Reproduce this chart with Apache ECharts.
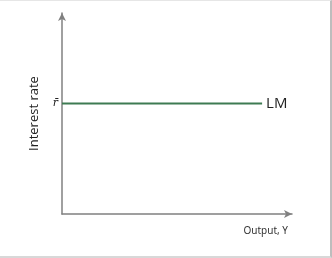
<!DOCTYPE html>
<html><head><meta charset="utf-8">
<script src="https://cdn.jsdelivr.net/npm/echarts@6/dist/echarts.min.js"></script>
<style>html,body{margin:0;padding:0;background:#fff}#c{width:332px;height:258px;box-sizing:border-box;border-top:1px solid #e6e6e6;border-right:2px solid #bdbdbd;border-bottom:2px solid #d8d8d8}</style>
</head><body><div id="c"></div>
<script>
const outputRange = [0, 100];
const rateRange = [0, 100];
const lmOutput = [0, 87];
const lmRate = [55, 55];
const lmName = 'LM';
const rateLabel = 'r\u0304';
const xName = 'Output, Y';
const yName = 'Interest rate';

const chart = echarts.init(document.getElementById('c'), null, {renderer: 'canvas'});
chart.setOption({
  animation: false,
  grid: {left: 62, right: 38, top: 12, bottom: 42},
  xAxis: {
    type: 'value', min: outputRange[0], max: outputRange[1],
    axisLine: {lineStyle: {color: '#808080', width: 1.5}, symbol: ['none', 'arrow'], symbolSize: [6, 8]},
    axisTick: {show: false}, axisLabel: {show: false}, splitLine: {show: false},
    name: xName, nameLocation: 'end', nameGap: -4,
    nameTextStyle: {fontFamily: 'Noto Sans', fontSize: 10, color: '#333', align: 'right', verticalAlign: 'top', padding: [12, 0, 0, 0]}
  },
  yAxis: {
    type: 'value', min: rateRange[0], max: rateRange[1],
    axisLine: {lineStyle: {color: '#808080', width: 1.5}, symbol: ['none', 'arrow'], symbolSize: [6, 8]},
    axisTick: {show: false}, axisLabel: {show: false}, splitLine: {show: false},
    name: yName, nameLocation: 'middle', nameGap: 21, nameRotate: 90,
    nameTextStyle: {fontFamily: 'Open Sans', fontSize: 13, color: '#222'}
  },
  series: [{
    type: 'line', name: lmName,
    data: lmOutput.map((x, i) => [x, lmRate[i]]),
    showSymbol: false, symbol: 'none',
    lineStyle: {color: '#3e7b52', width: 2},
    label: {show: false},
    endLabel: {show: true, formatter: lmName, fontFamily: 'Open Sans', fontSize: 15, color: '#222', distance: 4},
    markPoint: {
      symbol: 'circle', symbolSize: 0,
      data: [{coord: [lmOutput[0], lmRate[0]], value: rateLabel}],
      label: {show: true, position: 'left', distance: 4, formatter: rateLabel, fontFamily: 'DejaVu Serif', fontStyle: 'italic', fontSize: 11, color: '#222'}
    }
  }]
});
</script></body></html>
